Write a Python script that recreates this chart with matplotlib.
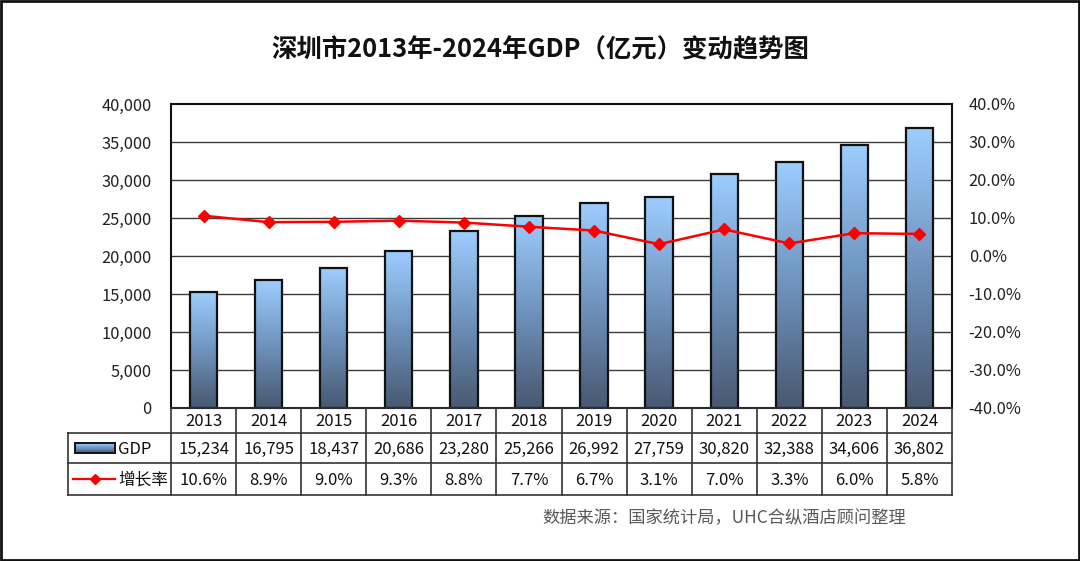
import matplotlib
matplotlib.use("Agg")
import matplotlib.pyplot as plt
import numpy as np
from matplotlib.patches import Rectangle
from matplotlib.colors import LinearSegmentedColormap

plt.rcParams['font.family'] = ['Noto Sans CJK SC', 'DejaVu Sans']

years = ['2013', '2014', '2015', '2016', '2017', '2018', '2019', '2020', '2021', '2022', '2023', '2024']
gdp = [15234, 16795, 18437, 20686, 23280, 25266, 26992, 27759, 30820, 32388, 34606, 36802]
rate = [10.6, 8.9, 9.0, 9.3, 8.8, 7.7, 6.7, 3.1, 7.0, 3.3, 6.0, 5.8]
left_ticks = [0, 5000, 10000, 15000, 20000, 25000, 30000, 35000, 40000]
right_ticks = [-40, -30, -20, -10, 0, 10, 20, 30, 40]
title = '深圳市2013年-2024年GDP（亿元）变动趋势图'
source = '数据来源：国家统计局，UHC合纵酒店顾问整理'
series_names = ['GDP', '增长率']

W, H = 1080, 561
fig = plt.figure(figsize=(W / 100, H / 100), dpi=100)
fig.patch.set_facecolor('white')

# layout in pixels
PL, PR, PT, PB = 171, 952, 104, 408
TL = 68
ROW1, ROW2, ROW3 = 433, 463, 495

def fx(x):
    return x / W

def fy(y):
    return 1 - y / H

ax = fig.add_axes([fx(PL), fy(PB), fx(PR - PL), (PB - PT) / H])
n = len(years)
xs = np.arange(n)

cmap = LinearSegmentedColormap.from_list('g', ['#485871', '#6f93bd', '#9dcdff'])
grad = np.linspace(0, 1, 256).reshape(-1, 1)
bw = 0.42
bars = ax.bar(xs, gdp, width=bw, facecolor='none', edgecolor='#111111', linewidth=1.6, zorder=4)
for b in bars:
    x0, w, h = b.get_x(), b.get_width(), b.get_height()
    im = ax.imshow(grad, extent=(x0, x0 + w, 0, h), origin='lower', cmap=cmap,
                   aspect='auto', zorder=3)
    im.set_clip_path(b)
ax.set_xlim(-0.5, n - 0.5)
ax.set_ylim(0, 40000)

ax.set_yticks(left_ticks)
ax.set_yticklabels([f'{v:,}' for v in left_ticks])
ax.set_xticks([])
ax.tick_params(axis='y', length=0, pad=14, labelsize=11.8, labelcolor='#222222')
for y in left_ticks[1:-1]:
    ax.axhline(y, color='#3a3a3a', lw=1.0, zorder=1)
for s in ax.spines.values():
    s.set_linewidth(1.5)
    s.set_color('#111111')

ax2 = ax.twinx()
ax2.set_ylim(-40, 40)
ax2.plot(xs, rate, color='#ff0000', lw=1.8, marker='D', markersize=6.5, zorder=5)
ax2.set_yticks(right_ticks)
ax2.set_yticklabels([f'{v:.1f}%' for v in right_ticks])
ax2.tick_params(axis='y', length=0, pad=12, labelsize=11.8, labelcolor='#222222')
for s in ax2.spines.values():
    s.set_visible(False)
ax2.set_xlim(-0.5, n - 0.5)

# table
tax = fig.add_axes([0, 0, 1, 1], facecolor='none')
tax.axis('off')
lc = '#333333'
colw = (PR - PL) / n
tax.plot([PL, PR], [PB, PB], color=lc, lw=1.2)
for y in (ROW1, ROW2, ROW3):
    tax.plot([TL, PR], [y, y], color=lc, lw=1.2)
tax.plot([TL, TL], [ROW1, ROW3], color=lc, lw=1.2)
for i in range(n + 1):
    x = PL + i * colw
    tax.plot([x, x], [PB, ROW3], color=lc, lw=1.2)
fs = 12
for i in range(n):
    cx = PL + (i + 0.5) * colw
    tax.text(cx, (PB + ROW1) / 2 + 1, years[i], ha='center', va='center', fontsize=fs, color='#111111')
    tax.text(cx, (ROW1 + ROW2) / 2 + 1, f'{gdp[i]:,}', ha='center', va='center', fontsize=fs, color='#111111')
    tax.text(cx, (ROW2 + ROW3) / 2 + 1, f'{rate[i]:.1f}%', ha='center', va='center', fontsize=fs, color='#111111')

# legend inside table
lx0, lx1 = 75, 115
ym1 = (ROW1 + ROW2) / 2
ym2 = (ROW2 + ROW3) / 2
leg_rect = Rectangle((lx0, ym1 - 5), lx1 - lx0, 10, facecolor='none', edgecolor='#111111', lw=1.4, zorder=4)
tax.add_patch(leg_rect)
lim = tax.imshow(np.linspace(0, 1, 64).reshape(-1, 1), extent=(lx0, lx1, ym1 + 5, ym1 - 5),
                 origin='lower', cmap=cmap, aspect='auto', zorder=3)
lim.set_clip_path(leg_rect)
tax.text(lx1 + 3, ym1 + 1, series_names[0], ha='left', va='center', fontsize=fs, color='#111111')
tax.plot([lx0 - 2, lx1], [ym2, ym2], color='#ff0000', lw=1.6)
tax.plot([(lx0 + lx1) / 2], [ym2], marker='D', color='#ff0000', markersize=5.5)
tax.text(lx1 + 3, ym2 + 1, series_names[1], ha='left', va='center', fontsize=fs, color='#111111')
tax.set_xlim(0, W)
tax.set_ylim(H, 0)

# title and source
fig.text(0.5, fy(50), title, ha='center', va='center', fontsize=18.3, fontweight='bold', color='#111111')
fig.text(fx(906), fy(518), source, ha='right', va='center', fontsize=12.4, color='#595959')

# outer border
fig.add_artist(Rectangle((0.0008, 0.0015), 0.9984, 0.997, transform=fig.transFigure,
                         facecolor='none', edgecolor='#111111', lw=2))

fig.savefig('out.png', dpi=100)
